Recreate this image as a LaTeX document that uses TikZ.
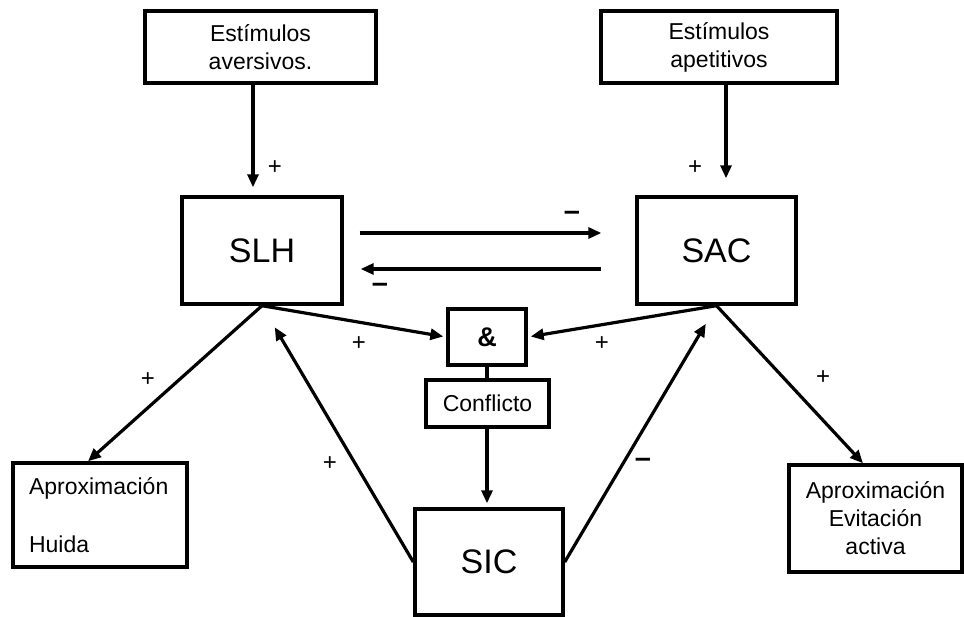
\documentclass[tikz,border=0pt]{standalone}
\usepackage{fontspec}
\setmainfont{Liberation Sans}
\usetikzlibrary{arrows.meta}
\begin{document}
\begin{tikzpicture}[x=1pt,y=-1pt,
  box/.style={draw, line width=3.4pt, inner sep=0pt, align=center, font=\fontsize{23}{28}\selectfont},
  big/.style={font=\fontsize{34}{40}\selectfont},
  arr/.style={line width=3.2pt, -{Triangle[length=13pt,width=11pt]}},
  lnk/.style={line width=3.2pt},
  sgn/.style={font=\fontsize{24}{24}\selectfont, inner sep=0pt},
  neg/.style={font=\bfseries\fontsize{29}{29}\selectfont, inner sep=0pt}]
\useasboundingbox (0,0) rectangle (964,617);

% boxes
\node[box, minimum width=231pt, minimum height=72pt] (aver) at (260.5,47) {Estímulos\\aversivos.};
\node[box, minimum width=236pt, minimum height=72pt] (apet) at (719,47) {Estímulos\\apetitivos};
\node[box, big, minimum width=160pt, minimum height=107pt] (slh) at (262,250.5) {SLH};
\node[box, big, minimum width=159pt, minimum height=107pt] (sac) at (716.5,250.5) {SAC};
\node[box, font=\bfseries\fontsize{27}{30}\selectfont, minimum width=78pt, minimum height=56pt] (amp) at (487,337) {\&};
\node[box, minimum width=123pt, minimum height=47pt] (conf) at (487.5,403.5) {Conflicto};
\node[box, big, minimum width=148pt, minimum height=106pt] (sic) at (489,562) {SIC};
\node[box, align=left, text width=142pt, inner xsep=16pt, minimum height=104pt] (hui) at (100,515) {Aproximación\\[30pt]Huida};
\node[box, minimum width=173pt, minimum height=107pt] (evi) at (875.5,518.5) {Aproximación\\Evitación\\activa};

% connectors
\draw[arr, shorten >=8pt] ([xshift=-7.5pt]aver.south) -- ([xshift=-9pt]slh.north);
\draw[arr, shorten >=17pt] ([xshift=7pt]apet.south) -- ([xshift=9.5pt]sac.north);
\draw[arr, shorten <=16pt, shorten >=34pt] ([yshift=17.5pt]slh.east) -- ([yshift=17.5pt]sac.west);
\draw[arr, shorten <=34pt, shorten >=17pt] ([yshift=-18.5pt]sac.west) -- ([yshift=-18.5pt]slh.east);
\draw[arr] (slh.south) -- ([xshift=-12pt]hui.north);
\draw[arr, shorten >=3pt] (slh.south) -- (amp.west);
\draw[arr, shorten >=25pt] (sic.west) -- (slh.south);
\draw[arr, shorten >=3pt] (sac.south) -- (amp.east);
\draw[arr, shorten >=21pt] (sic.east) -- (sac.south);
\draw[arr] (sac.south) -- ([xshift=-12.5pt]evi.north);
\draw[lnk] (amp.south) -- (conf.north -| amp.south);
\draw[arr, shorten >=4pt] (conf.south -| amp.south) -- (sic.north -| amp.south);

% signs
\node[sgn] (p1) at (275,168) {+};
\node[sgn] (p2) at (695,168) {+};
\node[sgn] (p3) at (148,380) {+};
\node[sgn] (p4) at (359,344) {+};
\node[sgn] (p5) at (330,464) {+};
\node[sgn] (p6) at (602,344) {+};
\node[sgn] (p7) at (823,378) {+};
\node[neg] (m1) at (572,216) {–};
\node[neg] (m2) at (380,288) {–};
\node[neg] (m3) at (643,463) {–};
\end{tikzpicture}
\end{document}
